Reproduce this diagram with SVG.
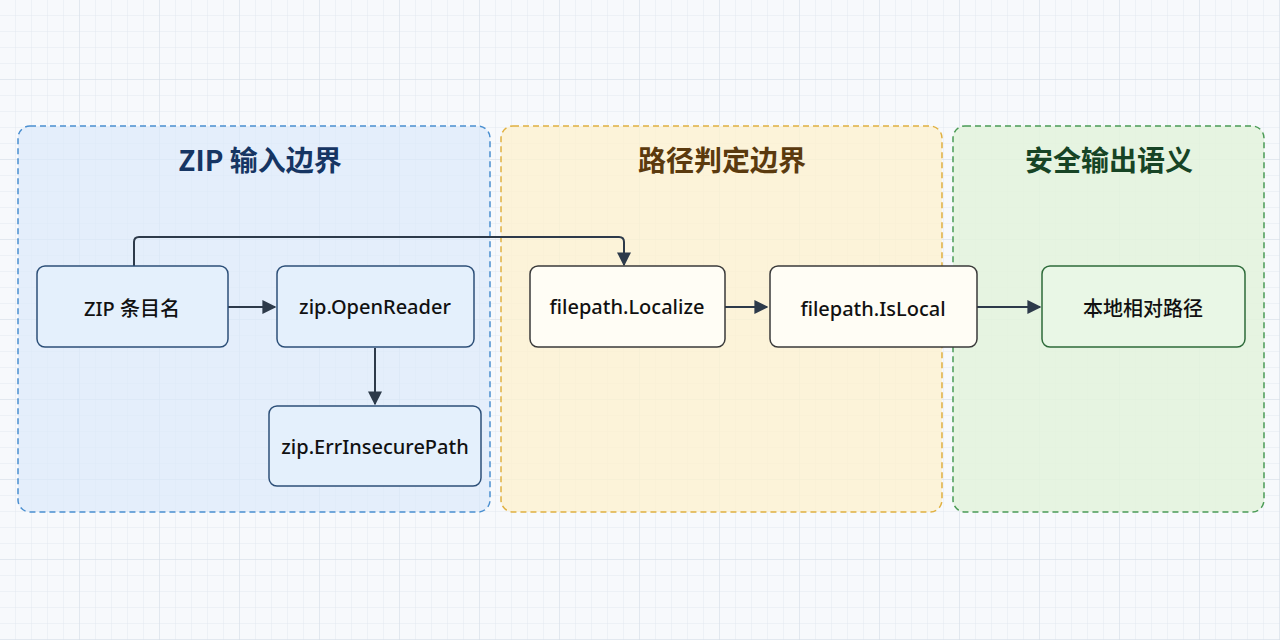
<svg xmlns="http://www.w3.org/2000/svg" width="1280" height="640" viewBox="0 0 1280 640">
<defs>
<pattern id="g" width="16" height="16" patternUnits="userSpaceOnUse"><path d="M16 0V16H0" fill="none" stroke="#e3e9f1" stroke-width="1"/></pattern>
<pattern id="G" width="80" height="80" patternUnits="userSpaceOnUse"><path d="M80 0V80H0" fill="none" stroke="#d6dee9" stroke-width="1"/></pattern>
<marker id="a" viewBox="0 0 10 10" refX="9" refY="5" markerWidth="7" markerHeight="7" orient="auto"><path d="M0 0L10 5L0 10z" fill="#2d3a4a"/></marker>
<style>
.t{font-family:"Noto Sans CJK SC","Noto Sans",sans-serif;font-weight:700;font-size:28px;text-anchor:middle}
.n{font-family:"Noto Sans","Noto Sans CJK SC",sans-serif;font-weight:500;font-size:20px;fill:#111;text-anchor:middle}
.c{fill:none;stroke:#2d3a4a;stroke-width:2;marker-end:url(#a)}
.b1{fill:#e4f0fc;stroke:#2c4f78;stroke-width:1.5}
.b2{fill:#fffdf5;stroke:#3a3a3a;stroke-width:1.5}
.b3{fill:#e9f7e6;stroke:#2e6b3a;stroke-width:1.5}
</style>
</defs>
<rect width="1280" height="640" fill="#f7f9fc"/>
<rect width="1280" height="640" fill="url(#g)"/>
<rect width="1280" height="640" fill="url(#G)"/>
<g id="zone1"><rect x="18" y="126" width="472" height="386" rx="12" fill="#dceafb" fill-opacity="0.7" stroke="#4a8fd0" stroke-width="1.5" stroke-dasharray="6 4"/><text class="t" x="260" y="171" fill="#163563">ZIP 输入边界</text></g>
<g id="zone2"><rect x="501" y="126" width="441" height="386" rx="12" fill="#fdf1cf" fill-opacity="0.8" stroke="#e0b040" stroke-width="1.5" stroke-dasharray="6 4"/><text class="t" x="722" y="171" fill="#5b3a0e">路径判定边界</text></g>
<g id="zone3"><rect x="953" y="126" width="311" height="386" rx="12" fill="#e3f3dc" fill-opacity="0.85" stroke="#4a9a55" stroke-width="1.5" stroke-dasharray="6 4"/><text class="t" x="1109" y="171" fill="#174425">安全输出语义</text></g>
<g id="connectors">
<path class="c" d="M134 266V242Q134 237 139 237H619Q624 237 624 242V265"/>
<path class="c" d="M228 307H275"/>
<path class="c" d="M375 348V404"/>
<path class="c" d="M725 307H767"/>
<path class="c" d="M977 307H1040"/>
</g>
<g id="n1"><rect class="b1" x="37" y="266" width="191" height="81" rx="8"/><text class="n" x="132" y="316" font-size="21">ZIP 条目名</text></g>
<g id="n2"><rect class="b1" x="277" y="266" width="197" height="81" rx="8"/><text class="n" x="375" y="314">zip.OpenReader</text></g>
<g id="n3"><rect class="b1" x="269" y="406" width="212" height="80" rx="8"/><text class="n" x="375" y="454">zip.ErrInsecurePath</text></g>
<g id="n4"><rect class="b2" x="530" y="266" width="195" height="81" rx="8"/><text class="n" x="627" y="314">filepath.Localize</text></g>
<g id="n5"><rect class="b2" x="770" y="266" width="207" height="81" rx="8"/><text class="n" x="873" y="316" font-size="21">filepath.IsLocal</text></g>
<g id="n6"><rect class="b3" x="1042" y="266" width="203" height="81" rx="8"/><text class="n" x="1143" y="316">本地相对路径</text></g>
</svg>
